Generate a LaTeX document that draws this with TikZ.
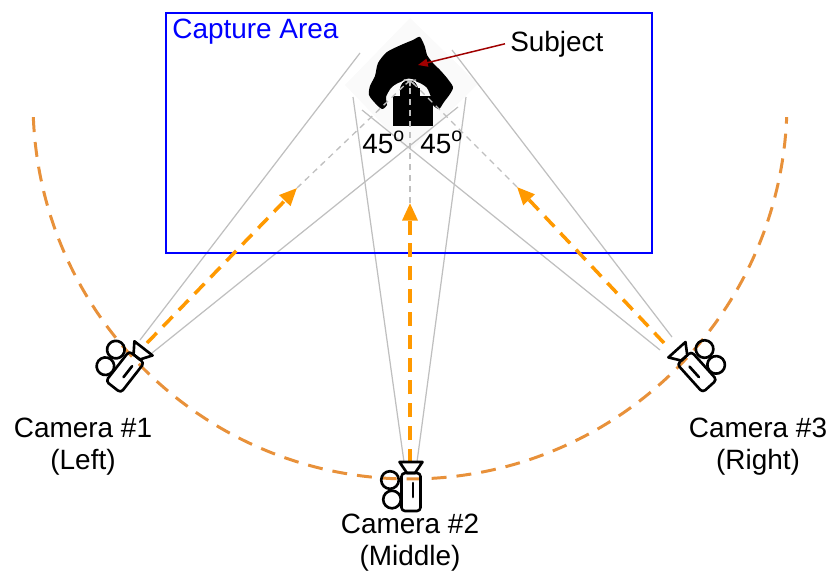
\documentclass[tikz,border=0pt]{standalone}
\usepackage{fontspec}
\setmainfont{Liberation Sans}
\usetikzlibrary{arrows.meta}
\definecolor{aimorange}{HTML}{FF9900}
\definecolor{railorange}{HTML}{E8913A}
\definecolor{pointred}{HTML}{A00000}
\tikzset{>=Latex}
\tikzstyle{fov}=[draw=gray!50,line width=0.7pt]
\tikzstyle{aim}=[draw=aimorange,line width=2pt,dash pattern=on 8pt off 5pt,-{Triangle[length=10pt,width=8.5pt]}]
\tikzstyle{sight}=[draw=gray!50,line width=0.75pt,dash pattern=on 3.4pt off 2.8pt,-{Straight Barb[length=2pt,width=5pt]}]
\tikzstyle{rail}=[draw=railorange,line width=1.7pt,dash pattern=on 8.5pt off 5.7pt]
\tikzstyle{camtext}=[inner sep=0pt,font=\fontsize{15.9}{18.2}\selectfont,align=center]
\tikzset{
  camicon/.pic={
    \begin{scope}[line width=1.5pt,line join=round]
      \draw[rounded corners=2pt] (-9.5,-19) rectangle (9.5,19);
      \draw (-11.5,-30) -- (11.5,-30) -- (4,-19) -- (-4,-19) -- cycle;
      \draw (-21,-12) circle[radius=8.8];
      \draw (-19,7.5) circle[radius=8.8];
      \draw[line cap=round] (2,-9) -- (2,5);
    \end{scope}
  }
}

\begin{document}
\begin{tikzpicture}[x=0.02cm,y=-0.02cm]
    \useasboundingbox (0,0) rectangle (832,575);

    \coordinate (head) at (410,80);
    \coordinate (arcc) at (410,102);
    \coordinate (capNW) at (166,13);
    \coordinate (capSE) at (652,253);
    \coordinate (arrowend) at (418,65);

    % camera body, lens and tip of the aim arrow
    \coordinate (cam1) at (125,372);
    \coordinate (cam2) at (411,492);
    \coordinate (cam3) at (697,372);
    \coordinate (lens1) at (147,343);
    \coordinate (lens2) at (410,463);
    \coordinate (lens3) at (664,343);
    \coordinate (tip1) at (297,188);
    \coordinate (tip2) at (410,203);
    \coordinate (tip3) at (517,187);

    % edges of the field of view
    \coordinate (a1) at (140,340); \coordinate (ea1) at (360,53);
    \coordinate (b1) at (152,353); \coordinate (eb1) at (458,107);
    \coordinate (a2) at (404,462); \coordinate (ea2) at (353,97);
    \coordinate (b2) at (417,462); \coordinate (eb2) at (466,97);
    \coordinate (a3) at (672,337); \coordinate (ea3) at (452,50);
    \coordinate (b3) at (660,350); \coordinate (eb3) at (362,110);

    \fill[black!2] (345,85) -- (410,18) -- (478,84) -- (409,152) -- cycle;

    \draw[rail] (arcc) ++(177.7:377) arc[start angle=177.7,end angle=2.3,radius=377];

    \foreach \i in {1,2,3} {
        \draw[fov] (a\i) -- (ea\i);
        \draw[fov] (b\i) -- (eb\i);
    };

    \draw[blue,line width=1.1pt] (capNW) rectangle (capSE);

    % subject, seen from above
    \fill plot[smooth cycle,tension=0.45] coordinates {
        (420,37) (425,47) (427,55) (433,63) (440,70) (447,78) (453,87)
        (450,94) (444,102) (439,109) (433,105) (431,97) (427,88) (420,83)
        (409,80) (398,83) (391,88) (386,97) (387,105) (382,109) (375,103)
        (369,95) (370,86) (375,76) (378,63) (387,52) (401,45) (413,40)};
    \fill (393,96) rectangle (433,126);
    \fill (400,88) rectangle (420,97);
    \fill (409,89) circle[radius=9];
    \draw[white,line width=0.7pt] (409,89) ++(200:9.8) arc[start angle=200,end angle=340,radius=9.8];

    \foreach \i in {1,2,3} {
        \draw[sight] (tip\i) -- (head);
        \draw[aim] (lens\i) -- (tip\i);
    };

    \pic[rotate=-38] at (cam1) {camicon};
    \pic at (cam2) {camicon};
    \pic[rotate=42,xscale=-1] at (cam3) {camicon};

    \node[camtext,text=blue,anchor=base west] (cap) at (172,38) {Capture Area};
    \node[camtext,inner sep=2.8pt,anchor=base west] (subj) at (505,51) {Subject};
    \draw[pointred,line width=0.85pt,-{Triangle[length=5.5pt,width=4.5pt]}] (subj.west) -- (arrowend);

    \node[camtext,anchor=base west] (ang1) at (362,153) {45\textsuperscript{o}};
    \node[camtext,anchor=base west] (ang2) at (420,153) {45\textsuperscript{o}};

    \node[camtext] (name1) at (83,447) {Camera \#1\\(Left)};
    \node[camtext] (name2) at (410,543) {Camera \#2\\(Middle)};
    \node[camtext] (name3) at (758,447) {Camera \#3\\(Right)};
\end{tikzpicture}
\end{document}
